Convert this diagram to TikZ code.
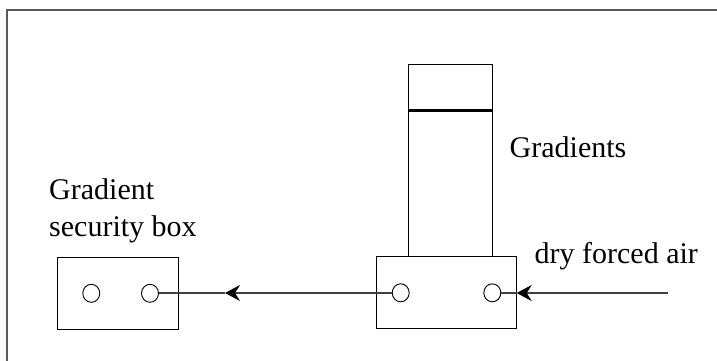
\documentclass[tikz,border=0pt]{standalone}
\usepackage{fontspec}
\setmainfont{Liberation Serif}
\usetikzlibrary{arrows.meta,shapes.geometric}
\begin{document}
\begin{tikzpicture}[x=1pt,y=-1pt,
  box/.style={draw=black,line width=1pt,inner sep=0pt,outer sep=0pt},
  port/.style={draw=black,line width=0.9pt,ellipse,minimum width=17pt,minimum height=18pt,inner sep=0pt},
  pipe/.style={draw=black!75,line width=1.1pt},
  flow/.style={pipe,-{Stealth[length=15pt,width=16pt,inset=5pt,black]}},
  lbl/.style={font=\fontsize{30}{34}\selectfont,inner sep=0pt,anchor=base west}]
\useasboundingbox (0,0) rectangle (717,361);
% frame
\draw[draw=black!65,line width=1.8pt] (7.3,362) -- (7.3,10) -- (718,10);
% tall gradient column
\node[box,minimum width=83.5pt,minimum height=192pt,anchor=north west] (col) at (408.5,64.7) {};
\draw[line width=3.2pt] (col.west |- 0,110.7) coordinate (bl) -- (col.east |- 0,110.7) coordinate (br);
% base box
\node[box,minimum width=140pt,minimum height=71.6pt,anchor=north west] (base) at (376.7,256.7) {};
% security box
\node[box,minimum width=121pt,minimum height=72pt,anchor=north west] (sec) at (57.7,257.3) {};
% ports
\node[port] (s1) at (91.3,293.3) {};
\node[port] (s2) at (150,293.3) {};
\node[port] (b1) at (400.7,292.8) {};
\node[port] (b2) at (492.3,292.8) {};
% connectors
\coordinate (tip) at (225,293);
\coordinate (airin) at (668,293);
\draw[flow] (b1.west |- tip) -- (tip);
\draw[pipe] (tip) -- (s2.east |- tip);
\draw[flow] (airin) -- (base.east |- airin);
\draw[pipe] (b2.east |- airin) -- (base.east |- airin);
% labels
\node[lbl] (lgrad) at (509.5,157.3) {Gradients};
\node[lbl] (lsec1) at (49,199.3) {Gradient};
\node[lbl] (lsec2) at (49,236) {security box};
\node[lbl] (lair) at (534.5,263.3) {dry forced air};
\end{tikzpicture}
\end{document}
